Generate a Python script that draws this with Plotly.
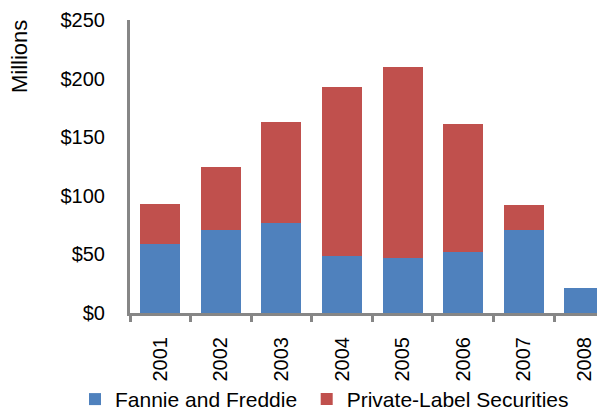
import plotly.graph_objects as go

years = ["2001", "2002", "2003", "2004", "2005", "2006", "2007", "2008"]
fannie_freddie = [59, 71, 77, 49, 47, 52, 71, 21]
private_label = [34, 54, 86, 144, 163, 109, 21, 0]

fig = go.Figure()
fig.add_trace(go.Bar(x=years, y=fannie_freddie, name="Fannie and Freddie",
                     marker=dict(color="#4F81BD", line=dict(width=0)),
                     legend="legend"))
fig.add_trace(go.Bar(x=years, y=private_label, name="Private-Label Securities",
                     marker=dict(color="#C0504D", line=dict(width=0)),
                     legend="legend2"))

font = "Liberation Sans, Arial, sans-serif"
leg_common = dict(orientation="h", xref="paper", yref="paper",
                  xanchor="left", y=-0.365, yanchor="bottom",
                  bgcolor="rgba(0,0,0,0)", font=dict(size=21))
fig.update_layout(
    width=597, height=407,
    barmode="stack", bargap=0.34,
    plot_bgcolor="white", paper_bgcolor="white",
    margin=dict(l=122, r=0, t=12, b=102, autoexpand=False),
    font=dict(family=font, size=20, color="#000000"),
    showlegend=True,
    legend=dict(x=-0.1158, **leg_common),
    legend2=dict(x=0.372, **leg_common),
    xaxis=dict(type="category", range=[-0.5, 7.34], showline=True,
               linecolor="#868686", linewidth=3, ticks="outside",
               tickson="boundaries", ticklen=6, tickwidth=3, tickcolor="#868686",
               tickangle=-90, tickfont=dict(size=20), ticklabelstandoff=13,
               showgrid=False, zeroline=False, fixedrange=True),
    yaxis=dict(range=[0, 250], dtick=50, tickprefix="$", showline=True,
               linecolor="#868686", linewidth=3, ticks="", showgrid=False,
               zeroline=False, tickfont=dict(size=20), ticklabelstandoff=18),
    annotations=[dict(text="Millions", xref="paper", yref="paper",
                      x=-0.2337, y=0.877, textangle=-90, showarrow=False,
                      font=dict(size=22), xanchor="center", yanchor="middle")],
)

fig.write_html("out.html")
